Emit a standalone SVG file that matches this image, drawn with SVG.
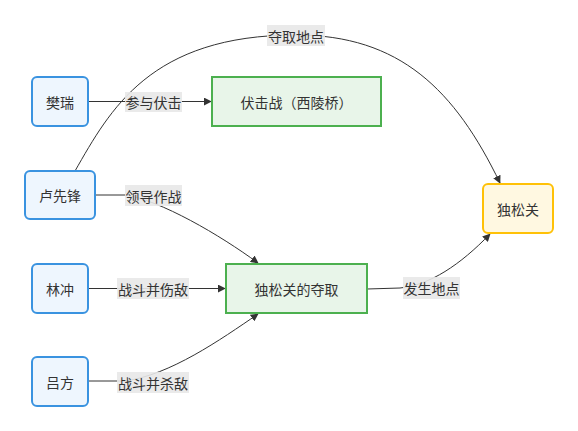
<svg xmlns="http://www.w3.org/2000/svg" width="578" height="431" viewBox="0 0 578 431">
<style>
text{font-family:"Noto Sans CJK SC","Noto Sans",sans-serif;font-size:14px;fill:#333;text-anchor:middle;dominant-baseline:central}
.p rect{fill:#eef6fe;stroke:#3a93e0;stroke-width:2}
.e rect{fill:#e8f5e9;stroke:#4cb04f;stroke-width:2}
.l{fill:#e8e8e8;opacity:0.9}
.c path{fill:none;stroke:#333;stroke-width:1}
</style>
<defs>
<marker id="ah" viewBox="0 0 10 10" refX="9" refY="5" markerWidth="8" markerHeight="8" orient="auto" markerUnits="userSpaceOnUse">
<path d="M0,0 L10,5 L0,10 z" fill="#333"/>
</marker>
</defs>
<rect width="578" height="431" fill="#fff"/>
<g id="connectors" class="c">
<path d="M88,101.5 L211,101.5" marker-end="url(#ah)"/>
<path d="M75,171 C110,110 150,35 296,35 C400,35 455,90 500,183" marker-end="url(#ah)"/>
<path d="M95,195 L125,195 C160,200 220,235 258,263" marker-end="url(#ah)"/>
<path d="M88,288.5 L225,288.5" marker-end="url(#ah)"/>
<path d="M88,381 L125,381 C170,375 220,340 258,314" marker-end="url(#ah)"/>
<path d="M367,289 L400,288 C430,285 460,265 490,234" marker-end="url(#ah)"/>
</g>
<g id="edge-labels">
<rect class="l" x="125" y="92" width="57" height="20"/><text x="153.5" y="102">参与伏击</text>
<rect class="l" x="267" y="25" width="58" height="21"/><text x="296" y="35.5">夺取地点</text>
<rect class="l" x="125" y="185" width="57" height="21"/><text x="153.5" y="195.5">领导作战</text>
<rect class="l" x="117" y="278" width="72" height="21"/><text x="153" y="288.5">战斗并伤敌</text>
<rect class="l" x="117" y="372" width="72" height="21"/><text x="153" y="382.5">战斗并杀敌</text>
<rect class="l" x="403" y="277" width="57" height="22"/><text x="431.5" y="288">发生地点</text>
</g>
<g id="fanrui" class="p"><rect x="32" y="77" width="56" height="49" rx="5"/><text x="60" y="101.5">樊瑞</text></g>
<g id="luxianfeng" class="p"><rect x="25" y="171" width="70" height="48" rx="5"/><text x="60" y="195">卢先锋</text></g>
<g id="linchong" class="p"><rect x="32" y="264" width="56" height="49" rx="5"/><text x="60" y="288.5">林冲</text></g>
<g id="lvfang" class="p"><rect x="32" y="357" width="56" height="49" rx="5"/><text x="60" y="381.5">吕方</text></g>
<g id="fujizhan" class="e"><rect x="212" y="77" width="169" height="49"/><text x="296.5" y="101.5">伏击战（西陵桥）</text></g>
<g id="duosong" class="e"><rect x="226" y="264" width="141" height="49"/><text x="296.5" y="288.5">独松关的夺取</text></g>
<g id="dusongguan"><rect x="483" y="184" width="70" height="49" rx="5" fill="#fff8e1" stroke="#ffc107" stroke-width="2"/><text x="518" y="208.5">独松关</text></g>
</svg>
